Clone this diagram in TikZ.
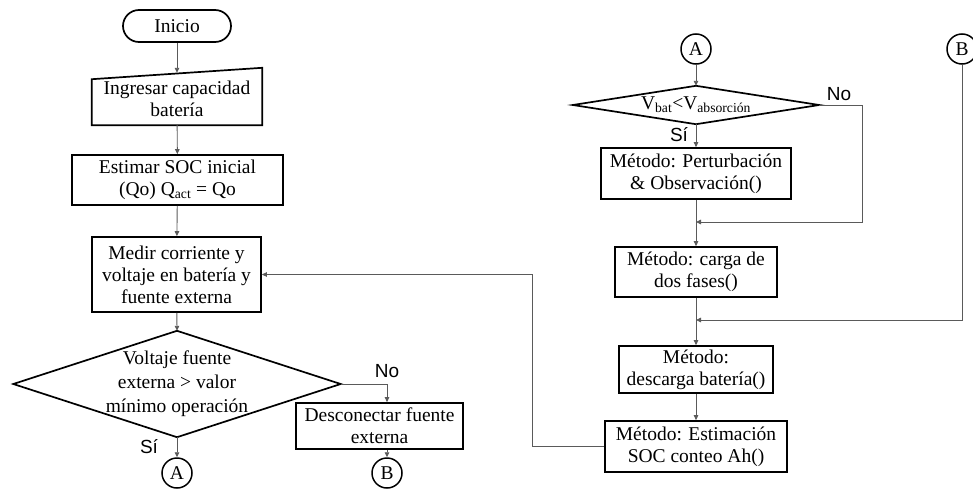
\documentclass[tikz,border=0pt]{standalone}
\usepackage{xcolor}
\usepackage{fontspec}
\setmainfont{Liberation Serif}
\newfontfamily\labelfont{Liberation Sans}
\usepackage{tikz}
\usetikzlibrary{arrows.meta}
\definecolor{L0}{HTML}{000000}
\definecolor{L1}{HTML}{5A5A5A}

\begin{document}
\begin{tikzpicture}[x=1pt, y=-1pt,
  txt/.style={align=center, inner sep=0pt, font=\fontsize{19.5}{22}\selectfont},
  box/.style={txt, draw=L0, line width=1.7pt},
  term/.style={box, rounded corners=16pt},
  conn/.style={circle, draw=L0, line width=1.5pt, minimum size=30pt, inner sep=0pt, font=\fontsize{19.5}{22}\selectfont},
  outline/.style={draw=L0, line width=1.7pt, line join=miter},
  flow/.style={draw=L1, line width=0.9pt, -{Triangle[length=5pt, width=4.5pt]}},
  yesno/.style={inner sep=0pt, font=\labelfont\fontsize{19}{22}\selectfont}]%
\useasboundingbox (0,0) rectangle (973,495);%
% left column
\node[term, minimum width=108pt, minimum height=32pt] (inicio) at (177,26) {Inicio};%
\node[txt, minimum width=170pt, minimum height=52pt] (ingresar) at (177,99) {Ingresar capacidad\\batería};%
\draw[outline] (ingresar.south west) -- ++(0,-46) -- ([yshift=5pt]ingresar.north east) -- (ingresar.south east) -- cycle;%
\node[box, minimum width=211pt, minimum height=50pt] (estimar) at (177.5,180) {Estimar SOC inicial\\(Qo) Q\textsubscript{act} = Qo};%
\node[box, minimum width=169pt, minimum height=75pt] (medir) at (176.5,274.5) {Medir corriente y\\voltaje en batería y\\fuente externa};%
\node[txt, minimum width=327pt, minimum height=106pt, font=\fontsize{19.5}{24}\selectfont] (voltaje) at (177,384) {Voltaje fuente\\externa > valor\\mínimo operación};%
\draw[outline] (voltaje.north) -- (voltaje.east) -- (voltaje.south) -- (voltaje.west) -- cycle;%
\node[conn] (A1) at (177,473) {A};%
\node[box, minimum width=167pt, minimum height=46pt] (desconectar) at (379.5,426) {Desconectar fuente\\externa};%
\node[conn] (B1) at (387,473) {B};%
\node[yesno] (si1) at (149,447) {Sí};%
\node[yesno] (no1) at (387,371) {No};%
% right column
\node[conn] (A2) at (696,49) {A};%
\node[conn] (B2) at (962,49) {B};%
\node[txt, minimum width=246pt, minimum height=38pt] (vbat) at (696,105) {V\textsubscript{bat}<V\textsubscript{absorción}};%
\draw[outline] (vbat.north) -- (vbat.east) -- (vbat.south) -- (vbat.west) -- cycle;%
\node[yesno] (si2) at (679,135) {Sí};%
\node[yesno] (no2) at (839,94) {No};%
\node[box, minimum width=190pt, minimum height=51pt] (perturbacion) at (696,173.5) {Método: Perturbación\\\& Observación()};%
\node[box, minimum width=162pt, minimum height=50pt] (carga) at (696,272) {Método: carga de\\dos fases()};%
\node[box, minimum width=154pt, minimum height=47pt] (descarga) at (696,369.5) {Método:\\descarga batería()};%
\node[box, minimum width=182pt, minimum height=51pt] (estimacion) at (696,446.5) {Método: Estimación\\SOC conteo Ah()};%
\coordinate (m1) at (696,222);%
\coordinate (m2) at (696,320);%
% connectors
\draw[flow] (inicio) -- (ingresar);%
\draw[flow] (ingresar) -- (estimar);%
\draw[flow] (estimar) -- (medir);%
\draw[flow] (medir) -- (voltaje.north);%
\draw[flow] (voltaje.south) -- (A1);%
\draw[flow] (voltaje.east) -| (B1 |- desconectar.north);%
\draw[flow] (B1 |- desconectar.south) -- (B1);%
\draw[flow] (A2) -- (vbat.north);%
\draw[flow] (vbat.south) -- (perturbacion);%
\draw[flow] (vbat.east) -- ++(43,0) |- (m1);%
\draw[flow] (perturbacion) -- (carga);%
\draw[flow] (B2) |- (m2);%
\draw[flow] (carga) -- (descarga);%
\draw[flow] (descarga) -- (estimacion);%
\draw[flow] (estimacion.west) -- ++(-72,0) |- (medir.east);%
\end{tikzpicture}
\end{document}
